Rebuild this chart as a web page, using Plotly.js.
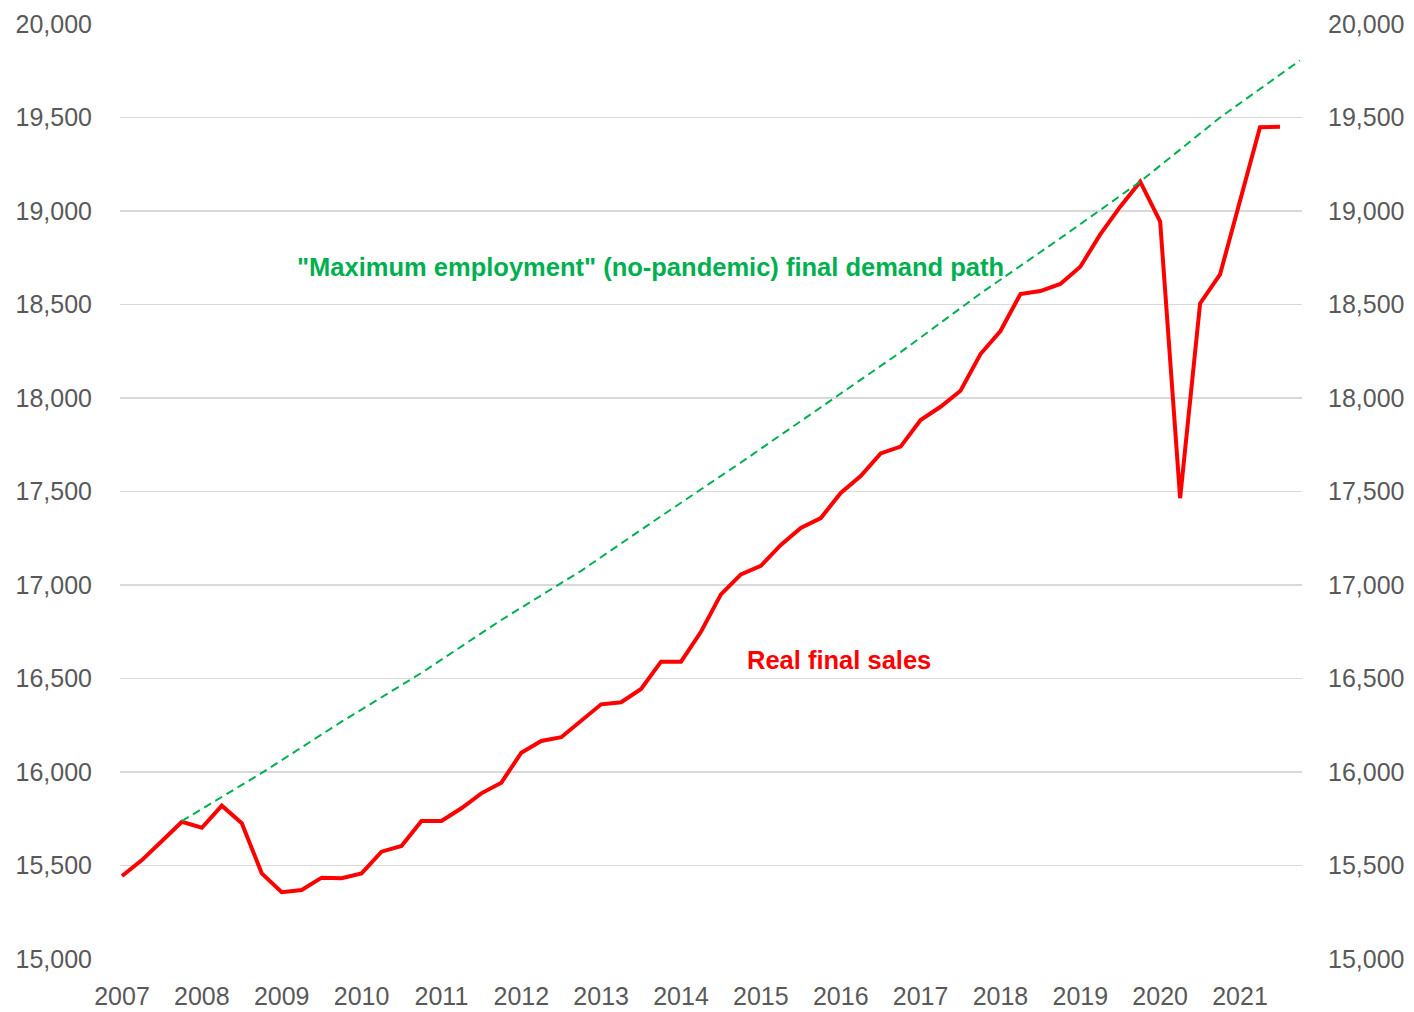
<!DOCTYPE html>
<html>
<head>
<meta charset="utf-8">
<script src="https://cdn.plot.ly/plotly-3.0.1.min.js"></script>
<style>
  html, body { margin: 0; padding: 0; background: #ffffff; }
  #chart { width: 1414px; height: 1012px; }
</style>
</head>
<body>
<div id="chart"></div>
<script>
// Real final sales, quarterly, 2007Q1 .. 2021Q3
const startYear = 2007;
const realFinalSales = [
  15444, 15529, 15631, 15734,
  15702, 15820, 15726, 15458,
  15357, 15369, 15435, 15432,
  15458, 15574, 15604, 15738,
  15738, 15806, 15886, 15943,
  16103, 16166, 16186, 16273,
  16362, 16373, 16444, 16590,
  16590, 16750, 16950, 17057,
  17102, 17214, 17305, 17358,
  17492, 17583, 17704, 17740,
  17882, 17953, 18039, 18235,
  18358, 18556, 18572, 18610,
  18702, 18875, 19023, 19157,
  18943, 17464, 18506, 18661,
  19059, 19448, 19451
];

// "Maximum employment" path, read at Q4 of each year
const pathYears = [2007, 2008, 2009, 2010, 2011, 2012, 2013, 2014, 2015, 2016, 2017, 2018, 2019, 2020, 2021];
const pathValues = [15738, 15995, 16269, 16530, 16813, 17076, 17368, 17655, 17950, 18245, 18559, 18854, 19157, 19500, 19805];

const tickYears = [2007, 2008, 2009, 2010, 2011, 2012, 2013, 2014, 2015, 2016, 2017, 2018, 2019, 2020, 2021];
const yTicks = [15000, 15500, 16000, 16500, 17000, 17500, 18000, 18500, 19000, 19500, 20000];

const salesX = realFinalSales.map((v, i) => startYear + i / 4);
const pathX = pathYears.map(y => y + 0.75);

const fontFam = "'Liberation Sans', Arial, sans-serif";
const tickFont = { family: fontFam, size: 25, color: '#595959' };

const traces = [
  {
    x: pathX, y: pathValues, type: 'scatter', mode: 'lines', yaxis: 'y2',
    line: { color: '#00B050', width: 2, dash: '8px,5px' },
    hoverinfo: 'skip', showlegend: false
  },
  {
    x: salesX, y: realFinalSales, type: 'scatter', mode: 'lines',
    line: { color: '#FF0000', width: 4 },
    showlegend: false
  }
];

const yCommon = {
  range: [15000, 20000],
  tickvals: yTicks,
  ticktext: yTicks.map(v => v.toLocaleString('en-US')),
  tickfont: tickFont,
  ticks: '',
  zeroline: false,
  showline: false,
  fixedrange: true
};

const layout = {
  width: 1414, height: 1012,
  margin: { l: 120, r: 112, t: 24, b: 53, pad: 0 },
  paper_bgcolor: '#ffffff', plot_bgcolor: '#ffffff',
  xaxis: {
    range: [2006.975, 2021.776],
    tickvals: tickYears,
    ticktext: tickYears.map(String),
    tickfont: tickFont,
    ticks: '',
    showgrid: false, zeroline: false, showline: false,
    ticklabelstandoff: 20
  },
  yaxis: Object.assign({}, yCommon, {
    side: 'left',
    showgrid: true, gridcolor: '#D9D9D9', gridwidth: 1.5,
    ticklabelstandoff: 27
  }),
  yaxis2: Object.assign({}, yCommon, {
    side: 'right', overlaying: 'y',
    showgrid: false,
    ticklabelstandoff: 25
  }),
  annotations: [
    {
      x: startYear + (651 - 122) / 79.86, y: 18700, xref: 'x', yref: 'y', showarrow: false,
      text: '"Maximum employment" (no-pandemic) final demand path',
      font: { family: fontFam, size: 25.5, color: '#00B050', weight: 'bold' },
      xanchor: 'center', yanchor: 'middle'
    },
    {
      x: startYear + (839 - 122) / 79.86, y: 16600, xref: 'x', yref: 'y', showarrow: false,
      text: 'Real final sales',
      font: { family: fontFam, size: 25.5, color: '#FF0000', weight: 'bold' },
      xanchor: 'center', yanchor: 'middle'
    }
  ]
};

Plotly.newPlot('chart', traces, layout, { displayModeBar: false, staticPlot: true });
</script>
</body>
</html>
